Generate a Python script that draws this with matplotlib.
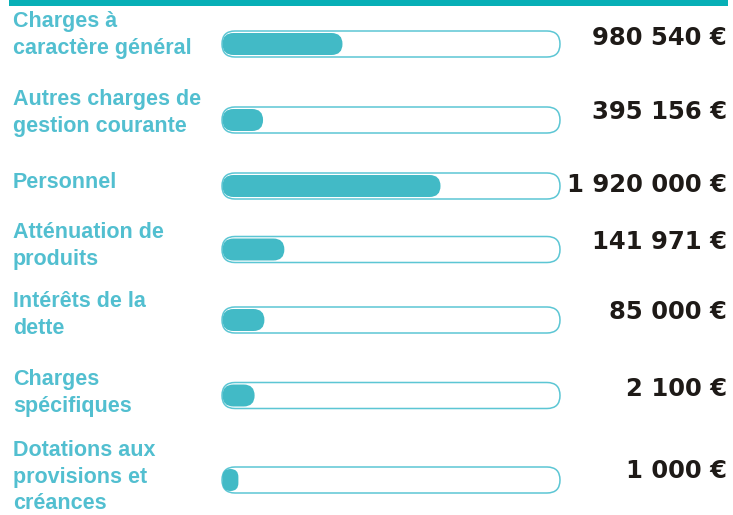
import matplotlib.pyplot as plt
from matplotlib.patches import FancyBboxPatch, Rectangle

categories = [
    "Charges à\ncaractère général",
    "Autres charges de\ngestion courante",
    "Personnel",
    "Atténuation de\nproduits",
    "Intérêts de la\ndette",
    "Charges\nspécifiques",
    "Dotations aux\nprovisions et\ncréances",
]
amounts = [980540, 395156, 1920000, 141971, 85000, 2100, 1000]
# filled share of each gauge, as drawn in the picture
fill_share = [0.355, 0.12, 0.645, 0.183, 0.124, 0.095, 0.047]

# layout (pixels)
bar_y = [44, 120, 186, 249.5, 320, 395.5, 480]
label_y = [35, 113, 183, 246, 315, 393, 477]
value_y = [38, 112, 185, 242, 312, 389, 471]
bar_x0, bar_x1 = 222, 560
bar_h, fill_h = 26, 22

teal_line = "#07afb6"
label_col = "#52bfd0"
fill_col = "#42bac6"
edge_col = "#5cc6d4"
value_col = "#1e1a17"


def fmt(v):
    return f"{v:,}".replace(",", " ") + " €"


fig = plt.figure(figsize=(7.33, 5.15), dpi=100)
ax = fig.add_axes([0, 0, 1, 1])
ax.set_xlim(0, 733)
ax.set_ylim(515, 0)
ax.axis("off")

ax.add_patch(Rectangle((9, 0), 719, 6, color=teal_line, lw=0))

w = bar_x1 - bar_x0
for i, cat in enumerate(categories):
    y = bar_y[i]
    ax.add_patch(FancyBboxPatch((bar_x0, y - bar_h / 2), w, bar_h,
                                boxstyle=f"round,pad=0,rounding_size={bar_h / 2}",
                                fc="white", ec=edge_col, lw=1.1))
    fw = max(fill_share[i] * w, fill_h * 0.7)
    ax.add_patch(FancyBboxPatch((bar_x0 + 0.5, y - fill_h / 2), fw, fill_h,
                                boxstyle=f"round,pad=0,rounding_size={min(fill_h / 2, fw / 2)}",
                                fc=fill_col, ec="none"))
    ax.text(13, label_y[i], cat, ha="left", va="center", color=label_col,
            fontsize=15.5, fontweight="bold", family="Liberation Sans",
            linespacing=1.32)
    ax.text(727, value_y[i], fmt(amounts[i]), ha="right", va="center",
            color=value_col, fontsize=17.5, fontweight="bold", family="DejaVu Sans")

fig.savefig("out.png", dpi=100)
